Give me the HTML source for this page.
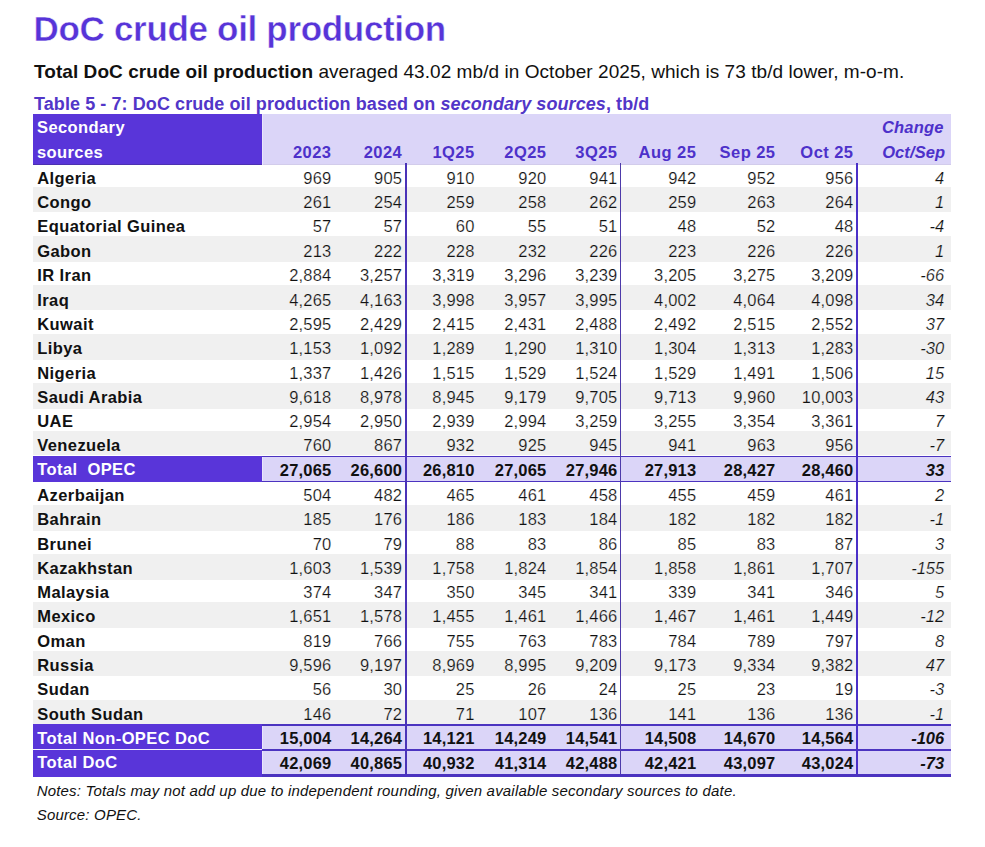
<!DOCTYPE html>
<html><head><meta charset="utf-8">
<style>
*{margin:0;padding:0;box-sizing:border-box}
html,body{width:985px;height:847px;background:#fff;overflow:hidden}
body{position:relative;font-family:"Liberation Sans",sans-serif;color:#111}
.a{position:absolute;white-space:nowrap}
.title{left:33.6px;top:4.8px;font-size:35px;font-weight:bold;color:#5734d8;line-height:48px;letter-spacing:-0.32px;-webkit-text-stroke:0.45px #fff}
.sub{left:34px;top:58.5px;font-size:19px;line-height:26px;color:#111;letter-spacing:0.06px}
.cap{left:34px;top:92px;font-size:18px;line-height:24px;font-weight:bold;color:#5236c8;letter-spacing:0.08px}
.bg{position:absolute}
.t{position:absolute;font-size:16.5px;line-height:20px;white-space:nowrap}
.n{text-align:right;letter-spacing:0.2px}
.c{font-style:italic;text-align:right}
.h{font-weight:bold;color:#4d31ca}
.nm{font-weight:bold;letter-spacing:0.4px}
.w{color:#fff}
.b{font-weight:bold}
.note{left:36.7px;font-size:15px;font-style:italic;line-height:20px;color:#111;letter-spacing:0.185px}
</style></head><body>
<div class="a title">DoC crude oil production</div>
<div class="a sub"><b>Total DoC crude oil production</b> averaged 43.02 mb/d in October 2025, which is 73 tb/d lower, m-o-m.</div>
<div class="a cap">Table 5 - 7: DoC crude oil production based on <i>secondary sources</i>, tb/d</div>

<div class="bg" style="left:33px;top:114px;width:229px;height:51px;background:#5935d9"></div>
<div class="bg" style="left:262px;top:114px;width:689px;height:51px;background:#dbd5f8"></div>
<div class="bg" style="left:33px;top:164px;width:229px;height:1px;background:#4c31b0"></div>
<div class="bg" style="left:262px;top:164px;width:689px;height:1px;background:#d2cceb"></div>
<div class="t nm w" style="left:37.00px;top:117.30px;">Secondary</div>
<div class="t nm w" style="left:37.00px;top:141.80px;">sources</div>
<div class="t h n" style="right:653.50px;top:141.80px;letter-spacing:0.45px">2023</div>
<div class="t h n" style="right:582.80px;top:141.80px;letter-spacing:0.45px">2024</div>
<div class="t h n" style="right:510.40px;top:141.80px;letter-spacing:0.45px">1Q25</div>
<div class="t h n" style="right:438.50px;top:141.80px;letter-spacing:0.45px">2Q25</div>
<div class="t h n" style="right:367.50px;top:141.80px;letter-spacing:0.45px">3Q25</div>
<div class="t h n" style="right:288.70px;top:141.80px;letter-spacing:0.45px">Aug 25</div>
<div class="t h n" style="right:209.50px;top:141.80px;letter-spacing:0.45px">Sep 25</div>
<div class="t h n" style="right:131.50px;top:141.80px;letter-spacing:0.45px">Oct 25</div>
<div class="t h c" style="right:41.40px;top:117.30px;letter-spacing:0.2px">Change</div>
<div class="t h c" style="right:39.80px;top:141.80px;letter-spacing:0.1px">Oct/Sep</div>
<div class="bg" style="left:33px;top:187px;width:918px;height:25px;background:#f0f0f0"></div>
<div class="bg" style="left:33px;top:236px;width:918px;height:26px;background:#f0f0f0"></div>
<div class="bg" style="left:33px;top:285px;width:918px;height:25px;background:#f0f0f0"></div>
<div class="bg" style="left:33px;top:334px;width:918px;height:26px;background:#f0f0f0"></div>
<div class="bg" style="left:33px;top:383px;width:918px;height:26px;background:#f0f0f0"></div>
<div class="bg" style="left:33px;top:431px;width:918px;height:24px;background:#f0f0f0"></div>
<div class="bg" style="left:33px;top:456px;width:229px;height:26px;background:#5935d9"></div>
<div class="bg" style="left:262px;top:456px;width:689px;height:26px;background:#dbd5f8"></div>
<div class="bg" style="left:33px;top:505px;width:918px;height:26px;background:#f0f0f0"></div>
<div class="bg" style="left:33px;top:554px;width:918px;height:26px;background:#f0f0f0"></div>
<div class="bg" style="left:33px;top:602px;width:918px;height:26px;background:#f0f0f0"></div>
<div class="bg" style="left:33px;top:651px;width:918px;height:25px;background:#f0f0f0"></div>
<div class="bg" style="left:33px;top:700px;width:918px;height:24px;background:#f0f0f0"></div>
<div class="bg" style="left:33px;top:724px;width:229px;height:25px;background:#5935d9"></div>
<div class="bg" style="left:262px;top:724px;width:689px;height:25px;background:#dbd5f8"></div>
<div class="bg" style="left:33px;top:749px;width:229px;height:25px;background:#5935d9"></div>
<div class="bg" style="left:262px;top:749px;width:689px;height:25px;background:#dbd5f8"></div>
<div class="bg" style="left:262px;top:456px;width:689px;height:1px;background:#4b33c0"></div>
<div class="bg" style="left:262px;top:481px;width:689px;height:1px;background:#4b33c0"></div>
<div class="bg" style="left:262px;top:724px;width:689px;height:2px;background:#4b33c0"></div>
<div class="bg" style="left:33px;top:724px;width:229px;height:2px;background:#5935d9"></div>
<div class="bg" style="left:262px;top:749px;width:689px;height:2px;background:#4b33c0"></div>
<div class="bg" style="left:33px;top:749px;width:229px;height:1px;background:#f6f2ff"></div>
<div class="bg" style="left:262px;top:774px;width:689px;height:3px;background:#4b33c0"></div>
<div class="bg" style="left:33px;top:774px;width:229px;height:3px;background:#5935d9"></div>
<div class="bg" style="left:262px;top:114px;width:1px;height:51px;background:#e9e5fc"></div>
<div class="bg" style="left:262px;top:457px;width:1px;height:24px;background:#e9e5fc"></div>
<div class="bg" style="left:262px;top:726px;width:1px;height:23px;background:#e9e5fc"></div>
<div class="bg" style="left:262px;top:751px;width:1px;height:23px;background:#e9e5fc"></div>
<div class="bg" style="left:405px;top:163px;width:2px;height:611px;background:#4a33b8"></div>
<div class="bg" style="left:620px;top:163px;width:1px;height:611px;background:#4d3aaa"></div>
<div class="bg" style="left:856px;top:163px;width:2px;height:611px;background:#4a30c8"></div>
<div class="t nm" style="left:37.30px;top:167.95px;">Algeria</div>
<div class="t n" style="right:653.50px;top:167.95px;-webkit-text-stroke:0.2px #fff;">969</div>
<div class="t n" style="right:582.80px;top:167.95px;-webkit-text-stroke:0.2px #fff;">905</div>
<div class="t n" style="right:510.40px;top:167.95px;-webkit-text-stroke:0.2px #fff;">910</div>
<div class="t n" style="right:438.50px;top:167.95px;-webkit-text-stroke:0.2px #fff;">920</div>
<div class="t n" style="right:367.50px;top:167.95px;-webkit-text-stroke:0.2px #fff;">941</div>
<div class="t n" style="right:288.70px;top:167.95px;-webkit-text-stroke:0.2px #fff;">942</div>
<div class="t n" style="right:209.50px;top:167.95px;-webkit-text-stroke:0.2px #fff;">952</div>
<div class="t n" style="right:131.50px;top:167.95px;-webkit-text-stroke:0.2px #fff;">956</div>
<div class="t c" style="right:40.80px;top:167.95px;-webkit-text-stroke:0.2px #fff;">4</div>
<div class="t nm" style="left:37.30px;top:192.27px;">Congo</div>
<div class="t n" style="right:653.50px;top:192.27px;-webkit-text-stroke:0.2px #f0f0f0;">261</div>
<div class="t n" style="right:582.80px;top:192.27px;-webkit-text-stroke:0.2px #f0f0f0;">254</div>
<div class="t n" style="right:510.40px;top:192.27px;-webkit-text-stroke:0.2px #f0f0f0;">259</div>
<div class="t n" style="right:438.50px;top:192.27px;-webkit-text-stroke:0.2px #f0f0f0;">258</div>
<div class="t n" style="right:367.50px;top:192.27px;-webkit-text-stroke:0.2px #f0f0f0;">262</div>
<div class="t n" style="right:288.70px;top:192.27px;-webkit-text-stroke:0.2px #f0f0f0;">259</div>
<div class="t n" style="right:209.50px;top:192.27px;-webkit-text-stroke:0.2px #f0f0f0;">263</div>
<div class="t n" style="right:131.50px;top:192.27px;-webkit-text-stroke:0.2px #f0f0f0;">264</div>
<div class="t c" style="right:40.80px;top:192.27px;-webkit-text-stroke:0.2px #f0f0f0;">1</div>
<div class="t nm" style="left:37.30px;top:215.85px;">Equatorial Guinea</div>
<div class="t n" style="right:653.50px;top:215.85px;-webkit-text-stroke:0.2px #fff;">57</div>
<div class="t n" style="right:582.80px;top:215.85px;-webkit-text-stroke:0.2px #fff;">57</div>
<div class="t n" style="right:510.40px;top:215.85px;-webkit-text-stroke:0.2px #fff;">60</div>
<div class="t n" style="right:438.50px;top:215.85px;-webkit-text-stroke:0.2px #fff;">55</div>
<div class="t n" style="right:367.50px;top:215.85px;-webkit-text-stroke:0.2px #fff;">51</div>
<div class="t n" style="right:288.70px;top:215.85px;-webkit-text-stroke:0.2px #fff;">48</div>
<div class="t n" style="right:209.50px;top:215.85px;-webkit-text-stroke:0.2px #fff;">52</div>
<div class="t n" style="right:131.50px;top:215.85px;-webkit-text-stroke:0.2px #fff;">48</div>
<div class="t c" style="right:40.80px;top:215.85px;-webkit-text-stroke:0.2px #fff;">-4</div>
<div class="t nm" style="left:37.30px;top:240.91px;">Gabon</div>
<div class="t n" style="right:653.50px;top:240.91px;-webkit-text-stroke:0.2px #f0f0f0;">213</div>
<div class="t n" style="right:582.80px;top:240.91px;-webkit-text-stroke:0.2px #f0f0f0;">222</div>
<div class="t n" style="right:510.40px;top:240.91px;-webkit-text-stroke:0.2px #f0f0f0;">228</div>
<div class="t n" style="right:438.50px;top:240.91px;-webkit-text-stroke:0.2px #f0f0f0;">232</div>
<div class="t n" style="right:367.50px;top:240.91px;-webkit-text-stroke:0.2px #f0f0f0;">226</div>
<div class="t n" style="right:288.70px;top:240.91px;-webkit-text-stroke:0.2px #f0f0f0;">223</div>
<div class="t n" style="right:209.50px;top:240.91px;-webkit-text-stroke:0.2px #f0f0f0;">226</div>
<div class="t n" style="right:131.50px;top:240.91px;-webkit-text-stroke:0.2px #f0f0f0;">226</div>
<div class="t c" style="right:40.80px;top:240.91px;-webkit-text-stroke:0.2px #f0f0f0;">1</div>
<div class="t nm" style="left:37.30px;top:265.23px;">IR Iran</div>
<div class="t n" style="right:653.50px;top:265.23px;-webkit-text-stroke:0.2px #fff;">2,884</div>
<div class="t n" style="right:582.80px;top:265.23px;-webkit-text-stroke:0.2px #fff;">3,257</div>
<div class="t n" style="right:510.40px;top:265.23px;-webkit-text-stroke:0.2px #fff;">3,319</div>
<div class="t n" style="right:438.50px;top:265.23px;-webkit-text-stroke:0.2px #fff;">3,296</div>
<div class="t n" style="right:367.50px;top:265.23px;-webkit-text-stroke:0.2px #fff;">3,239</div>
<div class="t n" style="right:288.70px;top:265.23px;-webkit-text-stroke:0.2px #fff;">3,205</div>
<div class="t n" style="right:209.50px;top:265.23px;-webkit-text-stroke:0.2px #fff;">3,275</div>
<div class="t n" style="right:131.50px;top:265.23px;-webkit-text-stroke:0.2px #fff;">3,209</div>
<div class="t c" style="right:40.80px;top:265.23px;-webkit-text-stroke:0.2px #fff;">-66</div>
<div class="t nm" style="left:37.30px;top:289.55px;">Iraq</div>
<div class="t n" style="right:653.50px;top:289.55px;-webkit-text-stroke:0.2px #f0f0f0;">4,265</div>
<div class="t n" style="right:582.80px;top:289.55px;-webkit-text-stroke:0.2px #f0f0f0;">4,163</div>
<div class="t n" style="right:510.40px;top:289.55px;-webkit-text-stroke:0.2px #f0f0f0;">3,998</div>
<div class="t n" style="right:438.50px;top:289.55px;-webkit-text-stroke:0.2px #f0f0f0;">3,957</div>
<div class="t n" style="right:367.50px;top:289.55px;-webkit-text-stroke:0.2px #f0f0f0;">3,995</div>
<div class="t n" style="right:288.70px;top:289.55px;-webkit-text-stroke:0.2px #f0f0f0;">4,002</div>
<div class="t n" style="right:209.50px;top:289.55px;-webkit-text-stroke:0.2px #f0f0f0;">4,064</div>
<div class="t n" style="right:131.50px;top:289.55px;-webkit-text-stroke:0.2px #f0f0f0;">4,098</div>
<div class="t c" style="right:40.80px;top:289.55px;-webkit-text-stroke:0.2px #f0f0f0;">34</div>
<div class="t nm" style="left:37.30px;top:313.87px;">Kuwait</div>
<div class="t n" style="right:653.50px;top:313.87px;-webkit-text-stroke:0.2px #fff;">2,595</div>
<div class="t n" style="right:582.80px;top:313.87px;-webkit-text-stroke:0.2px #fff;">2,429</div>
<div class="t n" style="right:510.40px;top:313.87px;-webkit-text-stroke:0.2px #fff;">2,415</div>
<div class="t n" style="right:438.50px;top:313.87px;-webkit-text-stroke:0.2px #fff;">2,431</div>
<div class="t n" style="right:367.50px;top:313.87px;-webkit-text-stroke:0.2px #fff;">2,488</div>
<div class="t n" style="right:288.70px;top:313.87px;-webkit-text-stroke:0.2px #fff;">2,492</div>
<div class="t n" style="right:209.50px;top:313.87px;-webkit-text-stroke:0.2px #fff;">2,515</div>
<div class="t n" style="right:131.50px;top:313.87px;-webkit-text-stroke:0.2px #fff;">2,552</div>
<div class="t c" style="right:40.80px;top:313.87px;-webkit-text-stroke:0.2px #fff;">37</div>
<div class="t nm" style="left:37.30px;top:338.19px;">Libya</div>
<div class="t n" style="right:653.50px;top:338.19px;-webkit-text-stroke:0.2px #f0f0f0;">1,153</div>
<div class="t n" style="right:582.80px;top:338.19px;-webkit-text-stroke:0.2px #f0f0f0;">1,092</div>
<div class="t n" style="right:510.40px;top:338.19px;-webkit-text-stroke:0.2px #f0f0f0;">1,289</div>
<div class="t n" style="right:438.50px;top:338.19px;-webkit-text-stroke:0.2px #f0f0f0;">1,290</div>
<div class="t n" style="right:367.50px;top:338.19px;-webkit-text-stroke:0.2px #f0f0f0;">1,310</div>
<div class="t n" style="right:288.70px;top:338.19px;-webkit-text-stroke:0.2px #f0f0f0;">1,304</div>
<div class="t n" style="right:209.50px;top:338.19px;-webkit-text-stroke:0.2px #f0f0f0;">1,313</div>
<div class="t n" style="right:131.50px;top:338.19px;-webkit-text-stroke:0.2px #f0f0f0;">1,283</div>
<div class="t c" style="right:40.80px;top:338.19px;-webkit-text-stroke:0.2px #f0f0f0;">-30</div>
<div class="t nm" style="left:37.30px;top:362.51px;">Nigeria</div>
<div class="t n" style="right:653.50px;top:362.51px;-webkit-text-stroke:0.2px #fff;">1,337</div>
<div class="t n" style="right:582.80px;top:362.51px;-webkit-text-stroke:0.2px #fff;">1,426</div>
<div class="t n" style="right:510.40px;top:362.51px;-webkit-text-stroke:0.2px #fff;">1,515</div>
<div class="t n" style="right:438.50px;top:362.51px;-webkit-text-stroke:0.2px #fff;">1,529</div>
<div class="t n" style="right:367.50px;top:362.51px;-webkit-text-stroke:0.2px #fff;">1,524</div>
<div class="t n" style="right:288.70px;top:362.51px;-webkit-text-stroke:0.2px #fff;">1,529</div>
<div class="t n" style="right:209.50px;top:362.51px;-webkit-text-stroke:0.2px #fff;">1,491</div>
<div class="t n" style="right:131.50px;top:362.51px;-webkit-text-stroke:0.2px #fff;">1,506</div>
<div class="t c" style="right:40.80px;top:362.51px;-webkit-text-stroke:0.2px #fff;">15</div>
<div class="t nm" style="left:37.30px;top:386.83px;">Saudi Arabia</div>
<div class="t n" style="right:653.50px;top:386.83px;-webkit-text-stroke:0.2px #f0f0f0;">9,618</div>
<div class="t n" style="right:582.80px;top:386.83px;-webkit-text-stroke:0.2px #f0f0f0;">8,978</div>
<div class="t n" style="right:510.40px;top:386.83px;-webkit-text-stroke:0.2px #f0f0f0;">8,945</div>
<div class="t n" style="right:438.50px;top:386.83px;-webkit-text-stroke:0.2px #f0f0f0;">9,179</div>
<div class="t n" style="right:367.50px;top:386.83px;-webkit-text-stroke:0.2px #f0f0f0;">9,705</div>
<div class="t n" style="right:288.70px;top:386.83px;-webkit-text-stroke:0.2px #f0f0f0;">9,713</div>
<div class="t n" style="right:209.50px;top:386.83px;-webkit-text-stroke:0.2px #f0f0f0;">9,960</div>
<div class="t n" style="right:131.50px;top:386.83px;-webkit-text-stroke:0.2px #f0f0f0;">10,003</div>
<div class="t c" style="right:40.80px;top:386.83px;-webkit-text-stroke:0.2px #f0f0f0;">43</div>
<div class="t nm" style="left:37.30px;top:411.15px;">UAE</div>
<div class="t n" style="right:653.50px;top:411.15px;-webkit-text-stroke:0.2px #fff;">2,954</div>
<div class="t n" style="right:582.80px;top:411.15px;-webkit-text-stroke:0.2px #fff;">2,950</div>
<div class="t n" style="right:510.40px;top:411.15px;-webkit-text-stroke:0.2px #fff;">2,939</div>
<div class="t n" style="right:438.50px;top:411.15px;-webkit-text-stroke:0.2px #fff;">2,994</div>
<div class="t n" style="right:367.50px;top:411.15px;-webkit-text-stroke:0.2px #fff;">3,259</div>
<div class="t n" style="right:288.70px;top:411.15px;-webkit-text-stroke:0.2px #fff;">3,255</div>
<div class="t n" style="right:209.50px;top:411.15px;-webkit-text-stroke:0.2px #fff;">3,354</div>
<div class="t n" style="right:131.50px;top:411.15px;-webkit-text-stroke:0.2px #fff;">3,361</div>
<div class="t c" style="right:40.80px;top:411.15px;-webkit-text-stroke:0.2px #fff;">7</div>
<div class="t nm" style="left:37.30px;top:435.47px;">Venezuela</div>
<div class="t n" style="right:653.50px;top:435.47px;-webkit-text-stroke:0.2px #f0f0f0;">760</div>
<div class="t n" style="right:582.80px;top:435.47px;-webkit-text-stroke:0.2px #f0f0f0;">867</div>
<div class="t n" style="right:510.40px;top:435.47px;-webkit-text-stroke:0.2px #f0f0f0;">932</div>
<div class="t n" style="right:438.50px;top:435.47px;-webkit-text-stroke:0.2px #f0f0f0;">925</div>
<div class="t n" style="right:367.50px;top:435.47px;-webkit-text-stroke:0.2px #f0f0f0;">945</div>
<div class="t n" style="right:288.70px;top:435.47px;-webkit-text-stroke:0.2px #f0f0f0;">941</div>
<div class="t n" style="right:209.50px;top:435.47px;-webkit-text-stroke:0.2px #f0f0f0;">963</div>
<div class="t n" style="right:131.50px;top:435.47px;-webkit-text-stroke:0.2px #f0f0f0;">956</div>
<div class="t c" style="right:40.80px;top:435.47px;-webkit-text-stroke:0.2px #f0f0f0;">-7</div>
<div class="t nm w" style="left:37.30px;top:458.55px;">Total&nbsp; OPEC</div>
<div class="t n b" style="right:653.50px;top:459.55px;">27,065</div>
<div class="t n b" style="right:582.80px;top:459.55px;">26,600</div>
<div class="t n b" style="right:510.40px;top:459.55px;">26,810</div>
<div class="t n b" style="right:438.50px;top:459.55px;">27,065</div>
<div class="t n b" style="right:367.50px;top:459.55px;">27,946</div>
<div class="t n b" style="right:288.70px;top:459.55px;">27,913</div>
<div class="t n b" style="right:209.50px;top:459.55px;">28,427</div>
<div class="t n b" style="right:131.50px;top:459.55px;">28,460</div>
<div class="t c b" style="right:40.80px;top:459.55px;">33</div>
<div class="t nm" style="left:37.30px;top:484.85px;">Azerbaijan</div>
<div class="t n" style="right:653.50px;top:484.85px;-webkit-text-stroke:0.2px #fff;">504</div>
<div class="t n" style="right:582.80px;top:484.85px;-webkit-text-stroke:0.2px #fff;">482</div>
<div class="t n" style="right:510.40px;top:484.85px;-webkit-text-stroke:0.2px #fff;">465</div>
<div class="t n" style="right:438.50px;top:484.85px;-webkit-text-stroke:0.2px #fff;">461</div>
<div class="t n" style="right:367.50px;top:484.85px;-webkit-text-stroke:0.2px #fff;">458</div>
<div class="t n" style="right:288.70px;top:484.85px;-webkit-text-stroke:0.2px #fff;">455</div>
<div class="t n" style="right:209.50px;top:484.85px;-webkit-text-stroke:0.2px #fff;">459</div>
<div class="t n" style="right:131.50px;top:484.85px;-webkit-text-stroke:0.2px #fff;">461</div>
<div class="t c" style="right:40.80px;top:484.85px;-webkit-text-stroke:0.2px #fff;">2</div>
<div class="t nm" style="left:37.30px;top:509.18px;">Bahrain</div>
<div class="t n" style="right:653.50px;top:509.18px;-webkit-text-stroke:0.2px #f0f0f0;">185</div>
<div class="t n" style="right:582.80px;top:509.18px;-webkit-text-stroke:0.2px #f0f0f0;">176</div>
<div class="t n" style="right:510.40px;top:509.18px;-webkit-text-stroke:0.2px #f0f0f0;">186</div>
<div class="t n" style="right:438.50px;top:509.18px;-webkit-text-stroke:0.2px #f0f0f0;">183</div>
<div class="t n" style="right:367.50px;top:509.18px;-webkit-text-stroke:0.2px #f0f0f0;">184</div>
<div class="t n" style="right:288.70px;top:509.18px;-webkit-text-stroke:0.2px #f0f0f0;">182</div>
<div class="t n" style="right:209.50px;top:509.18px;-webkit-text-stroke:0.2px #f0f0f0;">182</div>
<div class="t n" style="right:131.50px;top:509.18px;-webkit-text-stroke:0.2px #f0f0f0;">182</div>
<div class="t c" style="right:40.80px;top:509.18px;-webkit-text-stroke:0.2px #f0f0f0;">-1</div>
<div class="t nm" style="left:37.30px;top:533.50px;">Brunei</div>
<div class="t n" style="right:653.50px;top:533.50px;-webkit-text-stroke:0.2px #fff;">70</div>
<div class="t n" style="right:582.80px;top:533.50px;-webkit-text-stroke:0.2px #fff;">79</div>
<div class="t n" style="right:510.40px;top:533.50px;-webkit-text-stroke:0.2px #fff;">88</div>
<div class="t n" style="right:438.50px;top:533.50px;-webkit-text-stroke:0.2px #fff;">83</div>
<div class="t n" style="right:367.50px;top:533.50px;-webkit-text-stroke:0.2px #fff;">86</div>
<div class="t n" style="right:288.70px;top:533.50px;-webkit-text-stroke:0.2px #fff;">85</div>
<div class="t n" style="right:209.50px;top:533.50px;-webkit-text-stroke:0.2px #fff;">83</div>
<div class="t n" style="right:131.50px;top:533.50px;-webkit-text-stroke:0.2px #fff;">87</div>
<div class="t c" style="right:40.80px;top:533.50px;-webkit-text-stroke:0.2px #fff;">3</div>
<div class="t nm" style="left:37.30px;top:557.82px;">Kazakhstan</div>
<div class="t n" style="right:653.50px;top:557.82px;-webkit-text-stroke:0.2px #f0f0f0;">1,603</div>
<div class="t n" style="right:582.80px;top:557.82px;-webkit-text-stroke:0.2px #f0f0f0;">1,539</div>
<div class="t n" style="right:510.40px;top:557.82px;-webkit-text-stroke:0.2px #f0f0f0;">1,758</div>
<div class="t n" style="right:438.50px;top:557.82px;-webkit-text-stroke:0.2px #f0f0f0;">1,824</div>
<div class="t n" style="right:367.50px;top:557.82px;-webkit-text-stroke:0.2px #f0f0f0;">1,854</div>
<div class="t n" style="right:288.70px;top:557.82px;-webkit-text-stroke:0.2px #f0f0f0;">1,858</div>
<div class="t n" style="right:209.50px;top:557.82px;-webkit-text-stroke:0.2px #f0f0f0;">1,861</div>
<div class="t n" style="right:131.50px;top:557.82px;-webkit-text-stroke:0.2px #f0f0f0;">1,707</div>
<div class="t c" style="right:40.80px;top:557.82px;-webkit-text-stroke:0.2px #f0f0f0;">-155</div>
<div class="t nm" style="left:37.30px;top:582.15px;">Malaysia</div>
<div class="t n" style="right:653.50px;top:582.15px;-webkit-text-stroke:0.2px #fff;">374</div>
<div class="t n" style="right:582.80px;top:582.15px;-webkit-text-stroke:0.2px #fff;">347</div>
<div class="t n" style="right:510.40px;top:582.15px;-webkit-text-stroke:0.2px #fff;">350</div>
<div class="t n" style="right:438.50px;top:582.15px;-webkit-text-stroke:0.2px #fff;">345</div>
<div class="t n" style="right:367.50px;top:582.15px;-webkit-text-stroke:0.2px #fff;">341</div>
<div class="t n" style="right:288.70px;top:582.15px;-webkit-text-stroke:0.2px #fff;">339</div>
<div class="t n" style="right:209.50px;top:582.15px;-webkit-text-stroke:0.2px #fff;">341</div>
<div class="t n" style="right:131.50px;top:582.15px;-webkit-text-stroke:0.2px #fff;">346</div>
<div class="t c" style="right:40.80px;top:582.15px;-webkit-text-stroke:0.2px #fff;">5</div>
<div class="t nm" style="left:37.30px;top:606.47px;">Mexico</div>
<div class="t n" style="right:653.50px;top:606.47px;-webkit-text-stroke:0.2px #f0f0f0;">1,651</div>
<div class="t n" style="right:582.80px;top:606.47px;-webkit-text-stroke:0.2px #f0f0f0;">1,578</div>
<div class="t n" style="right:510.40px;top:606.47px;-webkit-text-stroke:0.2px #f0f0f0;">1,455</div>
<div class="t n" style="right:438.50px;top:606.47px;-webkit-text-stroke:0.2px #f0f0f0;">1,461</div>
<div class="t n" style="right:367.50px;top:606.47px;-webkit-text-stroke:0.2px #f0f0f0;">1,466</div>
<div class="t n" style="right:288.70px;top:606.47px;-webkit-text-stroke:0.2px #f0f0f0;">1,467</div>
<div class="t n" style="right:209.50px;top:606.47px;-webkit-text-stroke:0.2px #f0f0f0;">1,461</div>
<div class="t n" style="right:131.50px;top:606.47px;-webkit-text-stroke:0.2px #f0f0f0;">1,449</div>
<div class="t c" style="right:40.80px;top:606.47px;-webkit-text-stroke:0.2px #f0f0f0;">-12</div>
<div class="t nm" style="left:37.30px;top:630.80px;">Oman</div>
<div class="t n" style="right:653.50px;top:630.80px;-webkit-text-stroke:0.2px #fff;">819</div>
<div class="t n" style="right:582.80px;top:630.80px;-webkit-text-stroke:0.2px #fff;">766</div>
<div class="t n" style="right:510.40px;top:630.80px;-webkit-text-stroke:0.2px #fff;">755</div>
<div class="t n" style="right:438.50px;top:630.80px;-webkit-text-stroke:0.2px #fff;">763</div>
<div class="t n" style="right:367.50px;top:630.80px;-webkit-text-stroke:0.2px #fff;">783</div>
<div class="t n" style="right:288.70px;top:630.80px;-webkit-text-stroke:0.2px #fff;">784</div>
<div class="t n" style="right:209.50px;top:630.80px;-webkit-text-stroke:0.2px #fff;">789</div>
<div class="t n" style="right:131.50px;top:630.80px;-webkit-text-stroke:0.2px #fff;">797</div>
<div class="t c" style="right:40.80px;top:630.80px;-webkit-text-stroke:0.2px #fff;">8</div>
<div class="t nm" style="left:37.30px;top:655.12px;">Russia</div>
<div class="t n" style="right:653.50px;top:655.12px;-webkit-text-stroke:0.2px #f0f0f0;">9,596</div>
<div class="t n" style="right:582.80px;top:655.12px;-webkit-text-stroke:0.2px #f0f0f0;">9,197</div>
<div class="t n" style="right:510.40px;top:655.12px;-webkit-text-stroke:0.2px #f0f0f0;">8,969</div>
<div class="t n" style="right:438.50px;top:655.12px;-webkit-text-stroke:0.2px #f0f0f0;">8,995</div>
<div class="t n" style="right:367.50px;top:655.12px;-webkit-text-stroke:0.2px #f0f0f0;">9,209</div>
<div class="t n" style="right:288.70px;top:655.12px;-webkit-text-stroke:0.2px #f0f0f0;">9,173</div>
<div class="t n" style="right:209.50px;top:655.12px;-webkit-text-stroke:0.2px #f0f0f0;">9,334</div>
<div class="t n" style="right:131.50px;top:655.12px;-webkit-text-stroke:0.2px #f0f0f0;">9,382</div>
<div class="t c" style="right:40.80px;top:655.12px;-webkit-text-stroke:0.2px #f0f0f0;">47</div>
<div class="t nm" style="left:37.30px;top:679.45px;">Sudan</div>
<div class="t n" style="right:653.50px;top:679.45px;-webkit-text-stroke:0.2px #fff;">56</div>
<div class="t n" style="right:582.80px;top:679.45px;-webkit-text-stroke:0.2px #fff;">30</div>
<div class="t n" style="right:510.40px;top:679.45px;-webkit-text-stroke:0.2px #fff;">25</div>
<div class="t n" style="right:438.50px;top:679.45px;-webkit-text-stroke:0.2px #fff;">26</div>
<div class="t n" style="right:367.50px;top:679.45px;-webkit-text-stroke:0.2px #fff;">24</div>
<div class="t n" style="right:288.70px;top:679.45px;-webkit-text-stroke:0.2px #fff;">25</div>
<div class="t n" style="right:209.50px;top:679.45px;-webkit-text-stroke:0.2px #fff;">23</div>
<div class="t n" style="right:131.50px;top:679.45px;-webkit-text-stroke:0.2px #fff;">19</div>
<div class="t c" style="right:40.80px;top:679.45px;-webkit-text-stroke:0.2px #fff;">-3</div>
<div class="t nm" style="left:37.30px;top:703.77px;">South Sudan</div>
<div class="t n" style="right:653.50px;top:703.77px;-webkit-text-stroke:0.2px #f0f0f0;">146</div>
<div class="t n" style="right:582.80px;top:703.77px;-webkit-text-stroke:0.2px #f0f0f0;">72</div>
<div class="t n" style="right:510.40px;top:703.77px;-webkit-text-stroke:0.2px #f0f0f0;">71</div>
<div class="t n" style="right:438.50px;top:703.77px;-webkit-text-stroke:0.2px #f0f0f0;">107</div>
<div class="t n" style="right:367.50px;top:703.77px;-webkit-text-stroke:0.2px #f0f0f0;">136</div>
<div class="t n" style="right:288.70px;top:703.77px;-webkit-text-stroke:0.2px #f0f0f0;">141</div>
<div class="t n" style="right:209.50px;top:703.77px;-webkit-text-stroke:0.2px #f0f0f0;">136</div>
<div class="t n" style="right:131.50px;top:703.77px;-webkit-text-stroke:0.2px #f0f0f0;">136</div>
<div class="t c" style="right:40.80px;top:703.77px;-webkit-text-stroke:0.2px #f0f0f0;">-1</div>
<div class="t nm w" style="left:37.30px;top:727.55px;">Total Non-OPEC DoC</div>
<div class="t n b" style="right:653.50px;top:727.55px;">15,004</div>
<div class="t n b" style="right:582.80px;top:727.55px;">14,264</div>
<div class="t n b" style="right:510.40px;top:727.55px;">14,121</div>
<div class="t n b" style="right:438.50px;top:727.55px;">14,249</div>
<div class="t n b" style="right:367.50px;top:727.55px;">14,541</div>
<div class="t n b" style="right:288.70px;top:727.55px;">14,508</div>
<div class="t n b" style="right:209.50px;top:727.55px;">14,670</div>
<div class="t n b" style="right:131.50px;top:727.55px;">14,564</div>
<div class="t c b" style="right:40.80px;top:727.55px;">-106</div>
<div class="t nm w" style="left:37.30px;top:751.65px;">Total DoC</div>
<div class="t n b" style="right:653.50px;top:752.65px;">42,069</div>
<div class="t n b" style="right:582.80px;top:752.65px;">40,865</div>
<div class="t n b" style="right:510.40px;top:752.65px;">40,932</div>
<div class="t n b" style="right:438.50px;top:752.65px;">41,314</div>
<div class="t n b" style="right:367.50px;top:752.65px;">42,488</div>
<div class="t n b" style="right:288.70px;top:752.65px;">42,421</div>
<div class="t n b" style="right:209.50px;top:752.65px;">43,097</div>
<div class="t n b" style="right:131.50px;top:752.65px;">43,024</div>
<div class="t c b" style="right:40.80px;top:752.65px;">-73</div>
<div class="a note" style="top:780.5px">Notes: Totals may not add up due to independent rounding, given available secondary sources to date.</div>
<div class="a note" style="top:805px">Source: OPEC.</div>
</body></html>
